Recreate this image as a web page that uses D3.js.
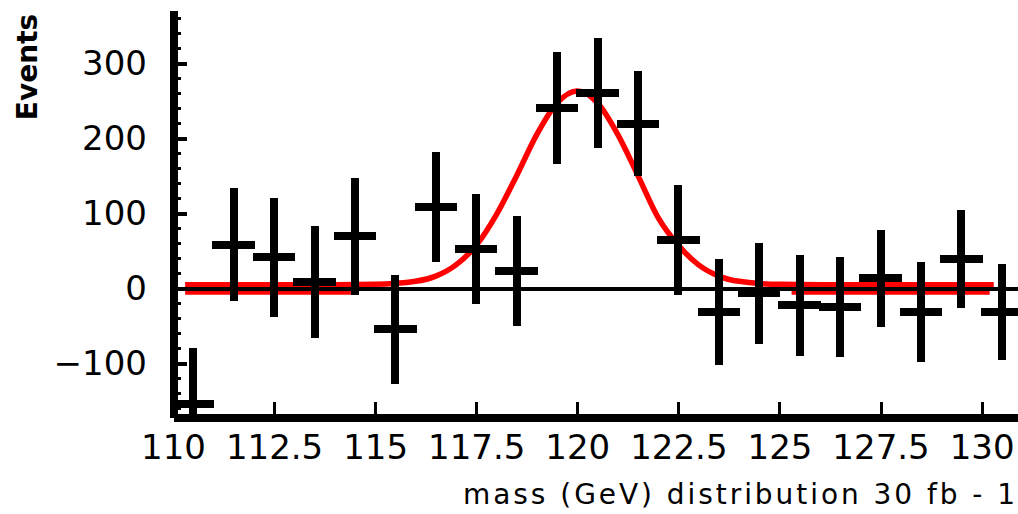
<!DOCTYPE html>
<html>
<head>
<meta charset="utf-8">
<script src="https://cdn.jsdelivr.net/npm/d3@7"></script>
<style>
  html, body { margin: 0; padding: 0; background: #fff; overflow: hidden; }
  svg { display: block; }
</style>
</head>
<body>
<svg id="chart" width="1018" height="514"></svg>
<script>
// Background-subtracted mass spectrum, one bin per GeV
const binCenters = [110.5, 111.5, 112.5, 113.5, 114.5, 115.5, 116.5, 117.5, 118.5, 119.5,
                    120.5, 121.5, 122.5, 123.5, 124.5, 125.5, 126.5, 127.5, 128.5, 129.5, 130.5];
const counts     = [-154, 59, 42, 9, 70, -54, 109, 53, 24, 241,
                    261, 220, 65, -31, -6, -22, -24, 14, -31, 40, -31];
const errors     = [75, 75, 79, 75, 78, 73, 73, 73, 73, 75,
                    73, 70, 73, 71, 67, 67, 67, 65, 67, 65, 64];

// Signal fit (peak near 120 GeV), sampled along the mass axis
const fitMass  = [110.3, 114, 115, 116, 116.5, 117, 117.5, 118, 118.5, 119, 119.5, 120,
                  120.5, 121, 121.5, 122, 122.5, 123, 123.5, 124, 125, 126, 130.3];
const fitValue = [5.6, 5.6, 6, 10, 17, 32, 58, 99, 151, 206, 248, 264,
                  248, 206, 151, 95, 58, 32, 17, 10, 6, 5.6, 5.6];

// Sideband background level
const bgLevel = -5.2;
const bgSegments = [[110.3, 114.4], [125.3, 130.2]];

// Axis ticks
const xTicks = [110, 112.5, 115, 117.5, 120, 122.5, 125, 127.5, 130];
const yTicks = [-100, 0, 100, 200, 300];
const yMinorTicks = d3.range(-160, 361, 20).filter(v => v % 100 !== 0);

const xTitle = "mass (GeV) distribution 30 fb - 1";
const yTitle = "Events";

const svg = d3.select("#chart");
const plot = { left: 173, right: 1018, top: 10, bottom: 417 };
const FONT = "DejaVu Sans, Verdana, sans-serif";

const x = d3.scaleLinear().domain([110, 130.9]).range([plot.left, plot.right]);
const y = d3.scaleLinear().domain([-171, 372]).range([plot.bottom, plot.top]);

svg.append("defs").append("clipPath").attr("id", "plotArea")
  .append("rect")
  .attr("x", plot.left).attr("y", plot.top)
  .attr("width", plot.right - plot.left).attr("height", plot.bottom - plot.top);

const layer = svg.append("g").attr("clip-path", "url(#plotArea)");

// Fit curve
const fitLine = d3.line()
  .x((d, i) => x(fitMass[i]))
  .y(d => y(d))
  .curve(d3.curveMonotoneX);

layer.append("path")
  .attr("d", fitLine(fitValue))
  .attr("fill", "none")
  .attr("stroke", "#ff0000")
  .attr("stroke-width", 5.5)
  .attr("stroke-linejoin", "round");

// Background level in the sidebands
layer.selectAll("line.bg")
  .data(bgSegments)
  .join("line")
  .attr("class", "bg")
  .attr("x1", d => x(d[0])).attr("x2", d => x(d[1]))
  .attr("y1", y(bgLevel)).attr("y2", y(bgLevel))
  .attr("stroke", "#ff0000")
  .attr("stroke-width", 4);

// Zero reference line
layer.append("line")
  .attr("x1", plot.left).attr("x2", plot.right)
  .attr("y1", y(0)).attr("y2", y(0))
  .attr("stroke", "#000")
  .attr("stroke-width", 4)
  .attr("shape-rendering", "crispEdges");

// Data points: bin-width bar and vertical error bar
const halfBin = 0.525;
const pts = layer.selectAll("g.pt")
  .data(binCenters.map((m, i) => ({ m, v: counts[i], e: errors[i] })))
  .join("g")
  .attr("class", "pt")
  .attr("shape-rendering", "crispEdges");

pts.append("line")
  .attr("x1", d => x(d.m)).attr("x2", d => x(d.m))
  .attr("y1", d => y(d.v + d.e)).attr("y2", d => y(d.v - d.e))
  .attr("stroke", "#000").attr("stroke-width", 8);

pts.append("line")
  .attr("x1", d => x(d.m - halfBin)).attr("x2", d => x(d.m + halfBin))
  .attr("y1", d => y(d.v)).attr("y2", d => y(d.v))
  .attr("stroke", "#000").attr("stroke-width", 8);

// Minor ticks on the y axis
svg.append("g")
  .selectAll("line")
  .data(yMinorTicks)
  .join("line")
  .attr("x1", plot.left).attr("x2", plot.left + 8)
  .attr("y1", d => y(d)).attr("y2", d => y(d))
  .attr("stroke", "#000").attr("stroke-width", 3)
  .attr("shape-rendering", "crispEdges");

// Y axis
const yAxis = d3.axisLeft(y)
  .tickValues(yTicks)
  .tickSizeInner(-14)
  .tickSizeOuter(0)
  .tickPadding(26)
  .tickFormat(d3.format("d"));

svg.append("g")
  .attr("transform", `translate(${plot.left},0)`)
  .call(yAxis)
  .call(g => g.select(".domain").attr("stroke-width", 8).attr("shape-rendering", "crispEdges"))
  .call(g => g.selectAll(".tick line").attr("stroke-width", 4).attr("shape-rendering", "crispEdges"))
  .call(g => g.selectAll(".tick text")
    .attr("font-family", FONT).attr("font-size", 34).attr("fill", "#000"));

// X axis
const xAxis = d3.axisBottom(x)
  .tickValues(xTicks)
  .tickSizeInner(-15)
  .tickSizeOuter(0)
  .tickPadding(18)
  .tickFormat(d => Number.isInteger(d) ? String(d) : d.toFixed(1));

svg.append("g")
  .attr("transform", `translate(0,${plot.bottom})`)
  .call(xAxis)
  .call(g => g.select(".domain").attr("stroke-width", 8).attr("shape-rendering", "crispEdges"))
  .call(g => g.selectAll(".tick line").attr("stroke-width", 3).attr("shape-rendering", "crispEdges"))
  .call(g => g.selectAll(".tick text")
    .attr("font-family", FONT).attr("font-size", 34).attr("fill", "#000"));

// Axis titles
svg.append("text")
  .attr("x", 463).attr("y", 504)
  .attr("font-family", FONT).attr("font-size", 28)
  .attr("textLength", 552).attr("lengthAdjust", "spacing")
  .attr("fill", "#000")
  .text(xTitle);

svg.append("text")
  .attr("transform", "translate(27,67) rotate(-90)")
  .attr("text-anchor", "middle")
  .attr("dominant-baseline", "central")
  .attr("font-family", FONT).attr("font-size", 28).attr("font-weight", "bold")
  .attr("fill", "#000")
  .text(yTitle);
</script>
</body>
</html>
